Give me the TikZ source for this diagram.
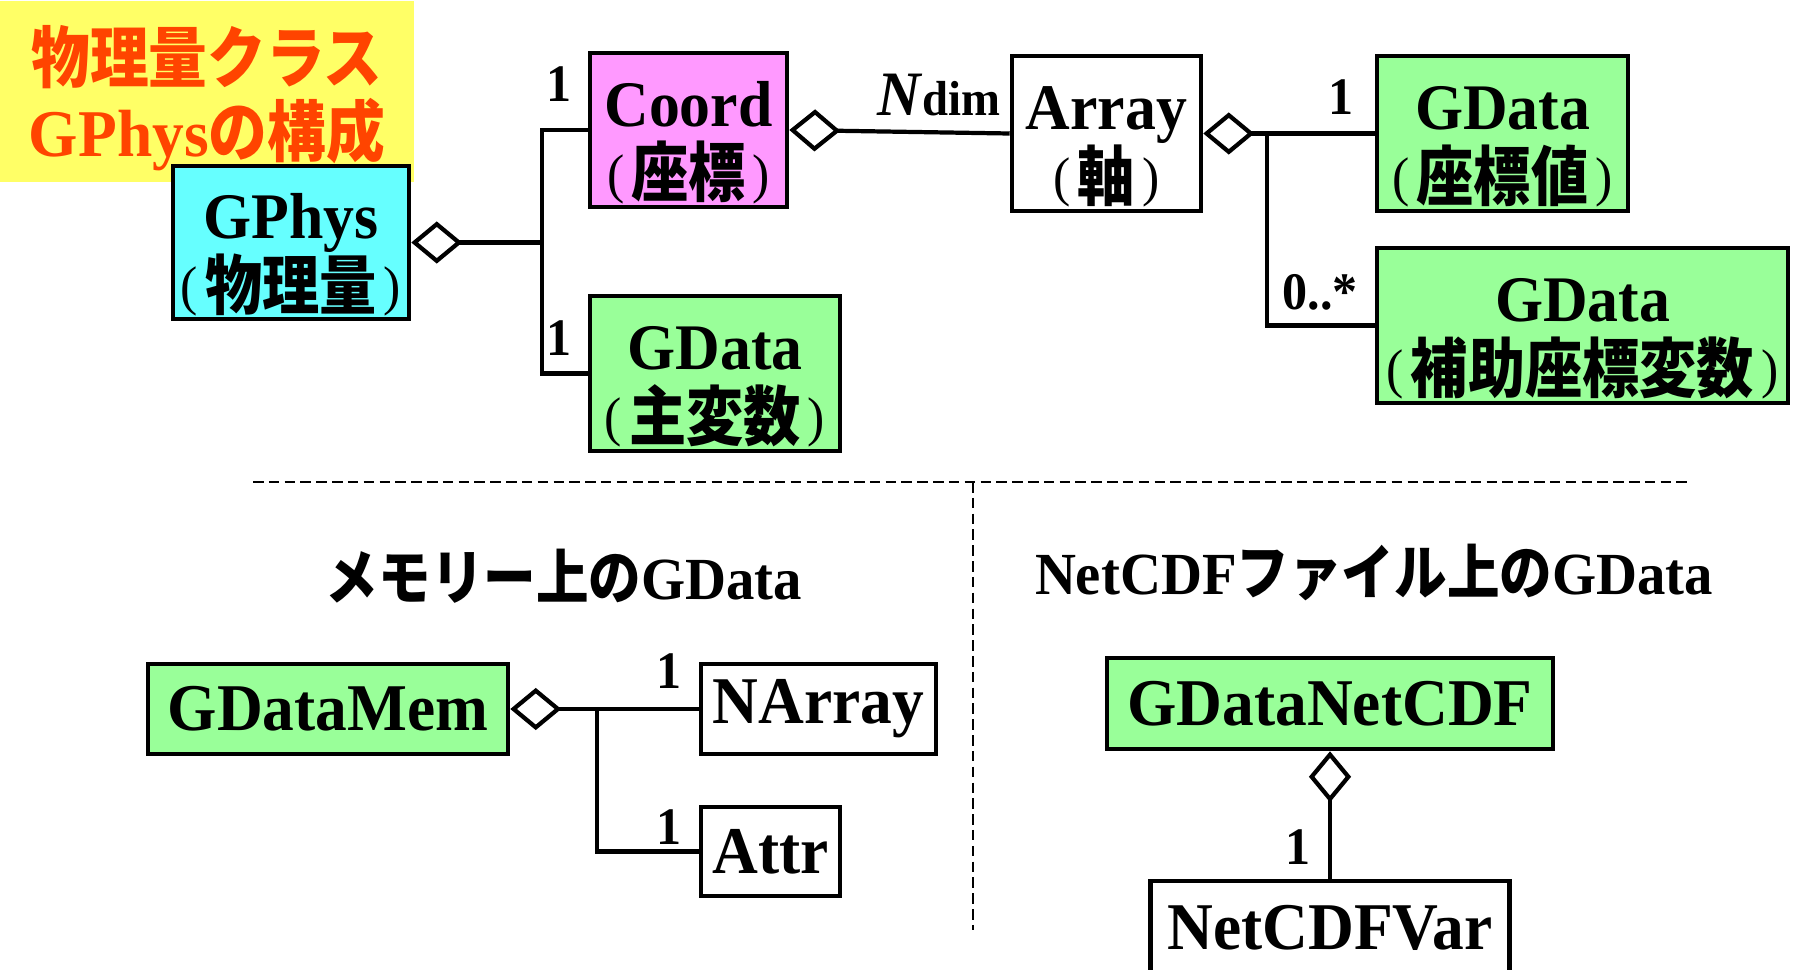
\documentclass[tikz,border=0pt]{standalone}
\usepackage{fontspec}
\setmainfont{Liberation Serif}[FakeStretch=0.95]
\newfontfamily\jpfont{Noto Sans CJK JP}[FakeStretch=0.88]
\usepackage{tikz}
\usetikzlibrary{arrows.meta, positioning}
\definecolor{physcyan}{RGB}{102,255,255}
\definecolor{coordpink}{RGB}{255,153,255}
\definecolor{datagreen}{RGB}{153,255,153}
\definecolor{titleyellow}{RGB}{255,255,102}
\definecolor{titlered}{RGB}{255,68,0}
\newcommand{\jparen}[1]{\raisebox{1.3pt}{\rmfamily\mdseries\fontsize{15.5}{12}\selectfont#1}}
\newcommand{\clsname}[2]{\rule{0pt}{18pt}#1\\\raisebox{0pt}[\height][0pt]{\jparen{(}\hspace{2pt}{\jpfont#2}\hspace{2pt}\jparen{)}}}

\begin{document}
\begin{tikzpicture}[cls/.style={draw, line width=1.3pt, inner sep=0pt, align=center, font=\bfseries\fontsize{18.5}{20}\selectfont},
  link/.style={line width=1.2pt},
  agg/.style={{Diamond[open, length=14.5pt, width=12pt]}-},
  mult/.style={font=\bfseries\fontsize{15}{15}\selectfont},
  head/.style={font=\bfseries\fontsize{17}{19}\selectfont},
  big/.style={font=\bfseries\fontsize{19}{21}\selectfont},
  sep/.style={line width=0.4pt, dash pattern=on 3pt off 1.5pt}]
 \useasboundingbox (0,0) rectangle (17.95,-9.70);
 % title
 \node[fill=titleyellow, minimum width=4.14cm, minimum height=1.71cm, align=center, text=titlered, font=\bfseries\fontsize{19}{21}\selectfont] (title) at (2.07,-0.915) {\rule{0pt}{20pt}{\jpfont 物理量クラス}\\GPhys{\jpfont の構成}};
 % upper part
 \node[cls, fill=physcyan, minimum width=2.36cm, minimum height=1.53cm] (gphys) at (2.91,-2.425) {\clsname{GPhys}{物理量}};
 \node[cls, fill=coordpink, minimum width=1.97cm, minimum height=1.54cm] (coord) at (6.885,-1.30) {\clsname{Coord}{座標}};
 \node[cls, fill=datagreen, minimum width=2.50cm, minimum height=1.55cm] (gdmain) at (7.15,-3.735) {\clsname{GData}{主変数}};
 \node[cls, fill=white, minimum width=1.89cm, minimum height=1.55cm] (array) at (11.065,-1.335) {\clsname{Array}{軸}};
 \node[cls, fill=datagreen, minimum width=2.51cm, minimum height=1.55cm] (gdcoord) at (15.025,-1.335) {\clsname{GData}{座標値}};
 \node[cls, fill=datagreen, minimum width=4.11cm, minimum height=1.55cm] (gdaux) at (15.825,-3.255) {\clsname{GData}{補助座標変数}};
 \draw[link, agg] (gphys.east) -- ++(1.31,0) coordinate (j1);
 \draw[link] (coord.west) -| (j1) |- (gdmain.west);
 \draw[link, agg] (coord.east) -- (array.west);
 \draw[link, agg] (array.east) -- ++(0.64,0) coordinate (j2) -- (gdcoord.west);
 \draw[link] (j2) |- (gdaux.west);
 \node[mult] (m1) at (5.59,-0.84) {1};
 \node[mult] (m2) at (5.59,-3.38) {1};
 \node[mult] (ndim) at (9.39,-0.95) {\fontsize{18}{18}\selectfont\textit{N}\fontsize{14}{14}\selectfont dim};
 \node[mult] (m3) at (13.41,-0.97) {1};
 \node[mult] (m4) at (13.20,-2.92) {0..*};
 % separators
 \draw[sep] (2.53,-4.82) -- (16.92,-4.82);
 \draw[sep] (9.73,-4.82) -- (9.73,-9.30);
 % lower left
 \node[head] (memhead) at (5.64,-5.76) {{\jpfont メモリー上の}GData};
 \node[cls, big, fill=datagreen, minimum width=3.60cm, minimum height=0.90cm] (gdmem) at (3.28,-7.09) {GDataMem};
 \node[cls, big, fill=white, minimum width=2.35cm, minimum height=0.90cm] (narray) at (8.185,-7.09) {NArray};
 \node[cls, big, fill=white, minimum width=1.39cm, minimum height=0.89cm] (attr) at (7.705,-8.515) {Attr};
 \draw[link, agg] (gdmem.east) -- ++(0.87,0) coordinate (j3) -- (narray.west);
 \draw[link] (j3) |- (attr.west);
 \node[mult] (m5) at (6.69,-6.71) {1};
 \node[mult] (m6) at (6.69,-8.27) {1};
 % lower right
 \node[head] (nchead) at (13.74,-5.72) {NetCDF{\jpfont ファイル上の}GData};
 \node[cls, big, fill=datagreen, minimum width=4.46cm, minimum height=0.91cm] (gdnc) at (13.30,-7.035) {GDataNetCDF};
 \node[cls, big, fill=white, minimum width=3.59cm, minimum height=0.94cm] (ncvar) at (13.30,-9.28) {NetCDFVar};
 \draw[link, agg] (gdnc.south) -- (ncvar.north);
 \node[mult] (m7) at (12.98,-8.47) {1};
\end{tikzpicture}
\end{document}
